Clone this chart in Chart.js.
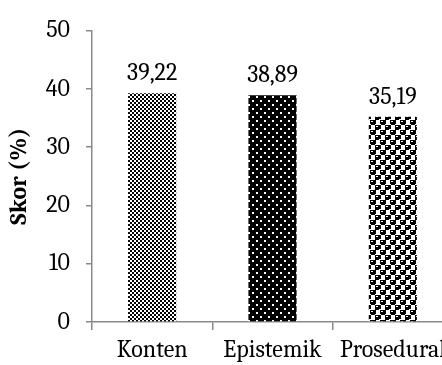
<!DOCTYPE html>
<html>
<head>
<meta charset="utf-8">
<script src="https://cdn.jsdelivr.net/npm/chart.js@4/dist/chart.umd.min.js"></script>
<style>
  html, body { margin: 0; padding: 0; background: #fff; overflow: hidden; }
  #wrap { position: relative; width: 453px; height: 365px; }
</style>
</head>
<body>
<div id="wrap"><canvas id="c"></canvas></div>
<script>
// Chart data
const categories = ['Konten', 'Epistemik', 'Prosedural'];
const scores = [39.22, 38.89, 35.19];
const yTicks = [0, 10, 20, 30, 40, 50];

// Build a fill pattern from rows of '#' (black) and '.' (white)
function makePattern(rows) {
  const h = rows.length, w = rows[0].length;
  const c = document.createElement('canvas');
  c.width = w; c.height = h;
  const g = c.getContext('2d');
  g.fillStyle = '#fff'; g.fillRect(0, 0, w, h);
  g.fillStyle = '#000';
  rows.forEach((r, y) => { for (let x = 0; x < w; x++) if (r[x] === '#') g.fillRect(x, y, 1, 1); });
  return document.createElement('canvas').getContext('2d').createPattern(c, 'repeat');
}

const checker = makePattern([
  '##..##..',
  '##..##..',
  '..##..##',
  '..##..##'
]);
const dots = makePattern([
  '..######',
  '..######',
  '########',
  '########',
  '####..##',
  '####..##',
  '########',
  '########'
]);
const sphere = makePattern([
  '######....',
  '#..###....',
  '######....',
  '######....',
  '.####.....',
  '#....#####',
  '#....#..##',
  '#....#####',
  '#....#####',
  '.....####.'
]);

const fonts = 'Cambria, "Liberation Serif", "DejaVu Serif", serif';
const axisGray = '#8a8a8a';

// Value labels above each bar, decimal comma
const valueLabels = {
  id: 'valueLabels',
  afterDatasetsDraw(chart) {
    const ctx = chart.ctx;
    const meta = chart.getDatasetMeta(0);
    ctx.save();
    ctx.font = '24px ' + fonts;
    ctx.fillStyle = '#000';
    ctx.textAlign = 'center';
    ctx.textBaseline = 'alphabetic';
    meta.data.forEach((bar, i) => {
      ctx.fillText(scores[i].toFixed(2).replace('.', ','), bar.x, bar.y - 13);
    });
    ctx.restore();
  }
};

new Chart(document.getElementById('c'), {
  type: 'bar',
  data: {
    labels: categories,
    datasets: [{
      data: scores,
      backgroundColor: [checker, dots, sphere],
      borderWidth: 0,
      barPercentage: 0.4,
      categoryPercentage: 1.0
    }]
  },
  options: {
    responsive: true,
    maintainAspectRatio: false,
    animation: false,
    layout: { padding: { top: 24, right: 0, left: 0, bottom: 0 } },
    plugins: { legend: { display: false }, tooltip: { enabled: false } },
    scales: {
      x: {
        offset: true,
        grid: { offset: true, drawOnChartArea: false, drawTicks: true, tickLength: 8, color: axisGray, lineWidth: 1.5 },
        border: { color: axisGray, width: 1.5 },
        ticks: { color: '#000', font: { family: fonts, size: 24 }, padding: 6, maxRotation: 0, autoSkip: false },
        afterFit(s) { s.height = 43; }
      },
      y: {
        min: 0, max: 50,
        afterBuildTicks(s) { s.ticks = yTicks.map(v => ({ value: v })); },
        grid: { drawOnChartArea: false, drawTicks: true, tickLength: 6, color: axisGray, lineWidth: 1.5 },
        border: { color: axisGray, width: 1.5 },
        ticks: { color: '#000', font: { family: fonts, size: 24 }, padding: 16 },
        title: { display: true, text: 'Skor (%)', color: '#000', font: { family: fonts, size: 24, weight: 'bold' }, padding: { top: 5, bottom: 0 } },
        afterFit(s) { s.width = 92; }
      }
    }
  },
  plugins: [valueLabels]
});
</script>
</body>
</html>
